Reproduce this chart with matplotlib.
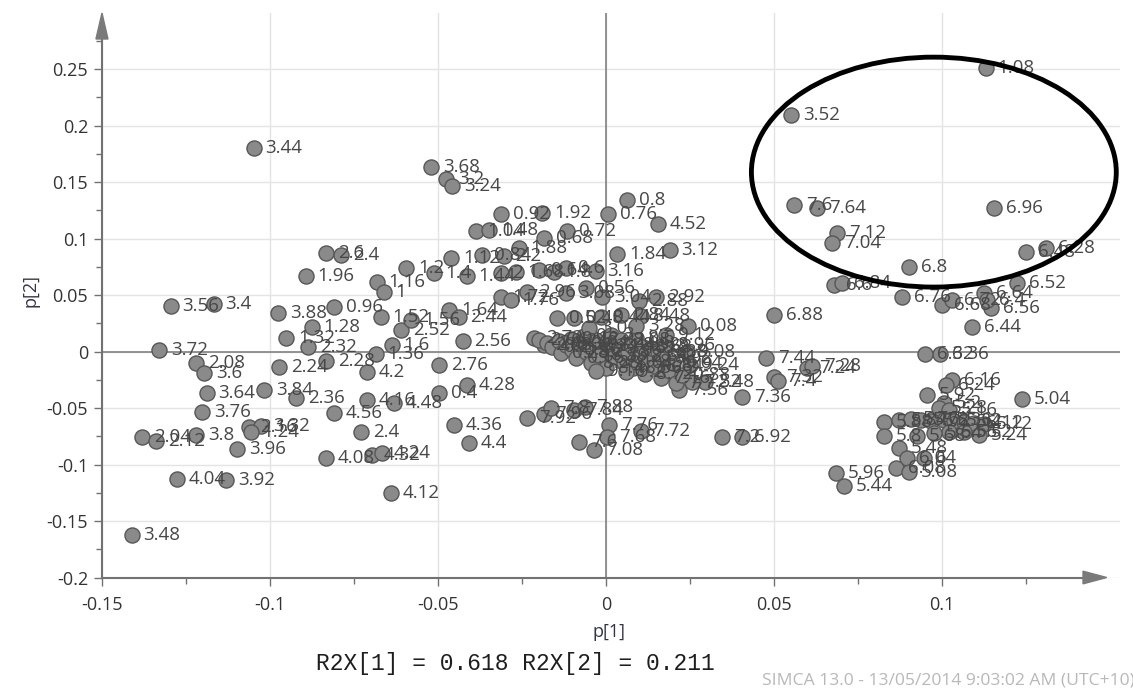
import matplotlib
matplotlib.use("Agg")
import matplotlib.pyplot as plt
from matplotlib.patches import Ellipse, Polygon
from matplotlib.lines import Line2D
from matplotlib.ticker import FixedLocator, FuncFormatter
import numpy as np

# ---------------- data (p[1], p[2] loadings with labels) ----------------
lab_a = ["3.44","3.68","3.2","3.24","0.92","1.92","0.76","0.8","4.52","1.04",
         "1.48","0.72","0.68","1.88","1.84","3.12","3.16","1.12","0.84","2.2",
         "1.4","1.44","2","1.68","0.64","1.8","0.6","1.16","1","1.2",
         "1.72","1.76","2.96","3.08","0.56","3.04","2.88","2.92","1.64","2.44",
         "0.52","0.48","0.44","2.84","8.48","0.08","2.56","2.72","2.68"]
p1_a = [-0.1048,-0.0521,-0.0476,-0.0458,-0.0313,-0.0190,0.0006,0.0063,0.0155,-0.0387,
        -0.0348,-0.0116,-0.0185,-0.0259,0.0033,0.0190,-0.0030,-0.0461,-0.0369,-0.0304,
        -0.0512,-0.0414,-0.0313,-0.0268,-0.0199,-0.0155,-0.0119,-0.0682,-0.0661,-0.0595,
        -0.0313,-0.0283,-0.0235,-0.0119,-0.0060,-0.0012,0.0098,0.0149,-0.0467,-0.0438,
        -0.0146,-0.0095,-0.0015,0.0045,0.0104,0.0244,-0.0426,-0.0214,-0.0185]
p2_a = [0.1801,0.1633,0.1527,0.1465,0.1217,0.1226,0.1217,0.1341,0.1128,0.1066,
        0.1075,0.1066,0.1004,0.0916,0.0863,0.0898,0.0712,0.0827,0.0854,0.0845,
        0.0695,0.0668,0.0695,0.0704,0.0721,0.0704,0.0739,0.0615,0.0527,0.0739,
        0.0482,0.0456,0.0527,0.0518,0.0562,0.0482,0.0447,0.0482,0.0367,0.0305,
        0.0296,0.0296,0.0305,0.0323,0.0314,0.0226,0.0093,0.0119,0.0058]

lab_b = ["3.56","3.4","3.72","2.08","3.6","3.64","3.84","2.36","3.76","3.88",
         "0.96","1.28","1.32","2.32","2.24","2.28","4.2","1.6","1.36","1.52",
         "2.52","1.56","2.6","2.4","1.96","3.8","2.04","2.12","2.16","3.32",
         "1.24","3.96","4.56","2.4","4.08","4.32","4.24","4.04","3.92","4.12",
         "3.48","4.16","4.48","0.4","2.76","4.28","4.36","4.4"]
p1_b = [-0.1295,-0.1167,-0.1330,-0.1220,-0.1196,-0.1188,-0.1018,-0.0923,-0.1202,-0.0976,
        -0.0810,-0.0875,-0.0952,-0.0887,-0.0973,-0.0833,-0.0711,-0.0637,-0.0685,-0.0670,
        -0.0610,-0.0580,-0.0833,-0.0789,-0.0893,-0.1220,-0.1381,-0.1339,-0.1063,-0.1027,
        -0.1057,-0.1098,-0.0810,-0.0729,-0.0833,-0.0696,-0.0667,-0.1277,-0.1131,-0.0640,
        -0.1411,-0.0711,-0.0631,-0.0497,-0.0497,-0.0414,-0.0452,-0.0408]
p2_b = [0.0403,0.0420,0.0013,-0.0102,-0.0190,-0.0367,-0.0341,-0.0412,-0.0535,0.0341,
        0.0394,0.0217,0.0119,0.0040,-0.0137,-0.0084,-0.0181,0.0058,-0.0022,0.0305,
        0.0190,0.0279,0.0872,0.0854,0.0668,-0.0739,-0.0757,-0.0792,-0.0668,-0.0659,
        -0.0712,-0.0863,-0.0544,-0.0712,-0.0942,-0.0916,-0.0898,-0.1128,-0.1137,-0.1252,
        -0.1624,-0.0429,-0.0456,-0.0367,-0.0119,-0.0296,-0.0650,-0.0810]

lab_c = ["7.92","7.96","7.8","7.84","7.88","7.76","7.72","7.6","7.68","7.08",
         "7.2","6.92","7.44","7.32","7.4","7.24","7.28","7.36","7.56","2.48","7.52"]
p1_c = [-0.0235,-0.0185,-0.0164,-0.0095,-0.0063,0.0009,0.0104,-0.0080,0.0003,-0.0036,
        0.0345,0.0405,0.0476,0.0500,0.0512,0.0598,0.0613,0.0405,0.0217,0.0295,0.0256]
p2_c = [-0.0588,-0.0553,-0.0500,-0.0518,-0.0491,-0.0650,-0.0704,-0.0801,-0.0760,-0.0872,
        -0.0757,-0.0757,-0.0058,-0.0226,-0.0261,-0.0146,-0.0128,-0.0403,-0.0341,-0.0270,-0.0270]

lab_d = ["1.08","3.52","7.6","7.64","7.12","7.04","6.96","6.8","6.48","6.28",
         "6.6","6.84","6.76","6.52","6.68","6.72","6.64","6.56","6.4","6.44","6.88"]
p1_d = [0.1131,0.0551,0.0560,0.0628,0.0688,0.0673,0.1155,0.0902,0.1250,0.1310,
        0.0679,0.0702,0.0881,0.1223,0.1000,0.1030,0.1125,0.1146,0.1134,0.1089,0.0500]
p2_d = [0.2509,0.2093,0.1296,0.1270,0.1049,0.0960,0.1270,0.0748,0.0881,0.0916,
        0.0588,0.0606,0.0482,0.0606,0.0412,0.0456,0.0518,0.0385,0.0456,0.0217,0.0323]

lab_e = ["6.36","6.32","6.16","6.24","5.04","5.92","5.2","5.28","5.16","5.88",
         "5.8","5.84","5.76","5.72","5.6","5.36","5.32","5.4","6.12","5.12",
         "5.24","5.52","5.56","5.64","5.68","5.48","6.04","6","6.08","5.08",
         "5.96","5.44"]
p1_e = [0.0994,0.0949,0.1030,0.1012,0.1238,0.0955,0.1006,0.0991,0.1021,0.0827,
        0.0827,0.0872,0.0908,0.0938,0.0967,0.1006,0.1036,0.1065,0.1095,0.1125,
        0.1110,0.1065,0.1021,0.0976,0.0926,0.0872,0.0896,0.0946,0.0863,0.0902,
        0.0685,0.0708]
p2_e = [-0.0022,-0.0022,-0.0252,-0.0296,-0.0420,-0.0385,-0.0456,-0.0500,-0.0518,-0.0624,
        -0.0748,-0.0606,-0.0597,-0.0606,-0.0615,-0.0606,-0.0615,-0.0624,-0.0633,-0.0642,
        -0.0739,-0.0712,-0.0712,-0.0721,-0.0748,-0.0854,-0.0942,-0.0942,-0.1031,-0.1066,
        -0.1075,-0.1190]

lab_f = ["2.64","2.8","0.2","0.24","0.28","0.32","0.12","0.36","0.16","0.04",
         "0","8.2","8.24","8.28","8.32","8.36","8.4","8.44","3","8.12",
         "8.16","8.08","8.04","8","8.52","8.56","8.6","8.64","8.68","8.72",
         "8.76","8.8","8.84","8.88","7.16","8.92","8.96","9","9.04","7",
         "0.88","9.08","3.0","3.28","9.12","9.16","9.2","9.24"]
p1_f = [-0.0200,-0.0175,-0.0160,-0.0140,-0.0135,-0.0120,-0.0105,-0.0100,-0.0090,-0.0080,
        -0.0065,-0.0060,-0.0050,-0.0045,-0.0030,-0.0020,0.0000,0.0005,0.0015,0.0025,
        0.0035,0.0045,0.0055,0.0065,0.0075,0.0080,0.0090,0.0100,0.0110,0.0115,
        0.0125,0.0135,0.0145,0.0155,0.0165,0.0170,0.0180,0.0190,0.0200,0.0210,
        0.0225,0.0240,-0.0050,0.0090,0.0180,-0.0030,0.0060,0.0250]
p2_f = [0.0100,0.0075,0.0040,0.0090,-0.0010,0.0055,0.0110,0.0015,-0.0055,0.0075,
        0.0140,-0.0005,0.0050,-0.0100,0.0100,-0.0030,-0.0150,0.0060,0.0150,-0.0050,
        0.0030,0.0100,-0.0100,0.0000,0.0060,-0.0150,0.0120,-0.0040,0.0040,-0.0200,
        -0.0090,0.0030,-0.0130,0.0000,-0.0230,-0.0060,0.0060,-0.0170,-0.0100,-0.0280,
        -0.0210,0.0000,0.0210,0.0230,0.0150,-0.0170,-0.0180,-0.0120]

labels = lab_a + lab_b + lab_c + lab_d + lab_e + lab_f
p1 = p1_a + p1_b + p1_c + p1_d + p1_e + p1_f
p2 = p2_a + p2_b + p2_c + p2_d + p2_e + p2_f
assert len(labels) == len(p1) == len(p2)

x_major = [-0.15, -0.1, -0.05, 0.0, 0.05, 0.1]
x_minor = [-0.125, -0.075, -0.025, 0.025, 0.075, 0.125]
y_major = [-0.2, -0.15, -0.1, -0.05, 0.0, 0.05, 0.1, 0.15, 0.2, 0.25]
y_minor = [-0.175, -0.125, -0.075, -0.025, 0.025, 0.075, 0.125, 0.175, 0.225, 0.275]

r2x_text = "R2X[1] = 0.618 R2X[2] = 0.211"
footer_text = "SIMCA 13.0 - 13/05/2014 9:03:02 AM (UTC+10)"

# ---------------- figure ----------------
plt.rcParams['font.family'] = ['Open Sans', 'DejaVu Sans']
fig = plt.figure(figsize=(11.33, 6.89), dpi=100)
ax = fig.add_axes([0.0900, 0.1618, 0.8985, 0.8193])
ax.set_xlim(-0.15, 0.153)
ax.set_ylim(-0.2, 0.2996)

for s in ax.spines.values():
    s.set_visible(False)

axis_col = '#727272'
ax.xaxis.set_major_locator(FixedLocator(x_major))
ax.xaxis.set_minor_locator(FixedLocator(x_minor))
ax.yaxis.set_major_locator(FixedLocator(y_major))
ax.yaxis.set_minor_locator(FixedLocator(y_minor))
fmt = FuncFormatter(lambda v, p: ('%g' % round(v, 3)) if abs(v) > 1e-9 else '0')
ax.xaxis.set_major_formatter(fmt)
ax.yaxis.set_major_formatter(fmt)
ax.tick_params(which='major', direction='out', length=6, width=1, color=axis_col,
               labelsize=13, labelcolor='#333333')
ax.tick_params(axis='x', which='major', pad=7)
ax.tick_params(axis='y', which='major', pad=4)
ax.tick_params(which='minor', direction='out', length=4, width=1, color=axis_col)

ax.grid(which='major', color='#e4e4e4', lw=1.0, zorder=0)
ax.set_axisbelow(True)
ax.axhline(0, color='#8a8a8a', lw=1.3, zorder=1)
ax.axvline(0, color='#8a8a8a', lw=1.3, zorder=1)

# axis lines with arrow heads
ax.add_line(Line2D([0, 0], [0, 0.96], transform=ax.transAxes, color=axis_col, lw=1.5, clip_on=False))
ax.add_line(Line2D([0, 0.97], [0, 0], transform=ax.transAxes, color=axis_col, lw=1.5, clip_on=False))
ax.add_patch(Polygon([[0, 1.0], [-0.0059, 0.954], [0.0059, 0.954]], closed=True,
                     transform=ax.transAxes, color='#7a7a7a', clip_on=False, zorder=5))
ax.add_patch(Polygon([[0.987, 0], [0.9637, 0.0112], [0.9637, -0.0112]], closed=True,
                     transform=ax.transAxes, color='#7a7a7a', clip_on=False, zorder=5))

ax.scatter(p1, p2, s=118, facecolor='#8a8a8a', edgecolor='#575757', linewidths=1.0, zorder=3)
for lab, x, y in zip(labels, p1, p2):
    ax.annotate(lab, (x, y), xytext=(8.5, 0), textcoords='offset points',
                ha='left', va='center', fontsize=13.5, color='#474747', zorder=4)

ax.add_patch(Ellipse((0.0976, 0.1588), 0.1086, 0.2035, fill=False, edgecolor='black',
                     lw=3.5, zorder=6, clip_on=False))

fig.text(0.5375, 0.0827, "p[1]", ha='center', va='center', fontsize=13, color='#333344')
fig.text(0.0265, 0.579, "p[2]", ha='center', va='center', fontsize=13, color='#333344', rotation=90)
fig.text(0.4545, 0.0377, r2x_text, ha='center', va='center', fontsize=16.5,
         family='Liberation Mono', color='#1e1e1e')
fig.text(762 / 1133, 0.013, footer_text, ha='left', va='center', fontsize=12.6, color='#b8b8b8')

fig.savefig("out.png", dpi=100)
